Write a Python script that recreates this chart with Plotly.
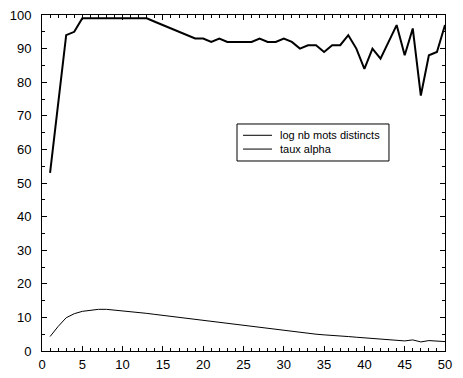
import plotly.graph_objects as go

x_vals = list(range(1, 51))
log_nb_mots = [4.3, 7.3, 9.9, 11.1, 11.8, 12.2, 12.4, 12.4, 12.2, 12.0,
               11.7, 11.4, 11.2, 10.9, 10.6, 10.3, 10.0, 9.7, 9.3, 9.0,
               8.7, 8.4, 8.1, 7.8, 7.5, 7.2, 7.0, 6.7, 6.4, 6.1,
               5.8, 5.6, 5.3, 5.0, 4.8, 4.7, 4.5, 4.3, 4.1, 3.9,
               3.7, 3.5, 3.4, 3.2, 3.0, 3.3, 2.7, 3.1, 3.0, 2.8]
taux_alpha = [53, 73, 94, 95, 99, 99, 99, 99, 99, 99,
              99, 99, 99, 98, 97, 96, 95, 94, 93, 93,
              92, 93, 92, 92, 92, 92, 93, 92, 92, 93,
              92, 90, 91, 91, 89, 91, 91, 94, 90, 84,
              90, 87, 92, 97, 88, 96, 76, 88, 89, 97]
series_names = ["log nb mots distincts", "taux alpha"]

fam = "Liberation Sans, Arial, sans-serif"
font = dict(family=fam, size=13, color="black")

fig = go.Figure()
fig.add_trace(go.Scatter(x=x_vals, y=log_nb_mots, mode="lines",
                         name=series_names[0],
                         line=dict(color="black", width=1)))
fig.add_trace(go.Scatter(x=x_vals, y=taux_alpha, mode="lines",
                         name=series_names[1],
                         line=dict(color="black", width=2)))

axis_common = dict(showline=True, linecolor="black", linewidth=1, mirror="ticks",
                   ticks="inside", ticklen=5, tickcolor="black", showgrid=False,
                   zeroline=False, tickfont=font, automargin=False)
fig.update_xaxes(range=[0, 50], dtick=5, tick0=0, ticklabelstandoff=1,
                 minor=dict(dtick=1, ticks="inside", ticklen=3, tickcolor="black"),
                 **axis_common)
fig.update_yaxes(range=[0, 100], dtick=10, tick0=0, ticklabelstandoff=7,
                 minor=dict(dtick=5, ticks="inside", ticklen=3, tickcolor="black"),
                 **axis_common)

# Legend drawn as a box with sample lines and labels (paper coordinates)
box = dict(x0=0.4839, x1=0.861, y0=0.5655, y1=0.6756)
row_y = [0.642, 0.601]
shapes = [dict(type="rect", xref="paper", yref="paper", line=dict(color="black", width=1),
               fillcolor="white", layer="above", **box)]
annotations = []
for name, yy in zip(series_names, row_y):
    shapes.append(dict(type="line", xref="paper", yref="paper", x0=0.4988, x1=0.5707,
                       y0=yy, y1=yy, line=dict(color="black", width=1), layer="above"))
    annotations.append(dict(text=name, xref="paper", yref="paper", x=0.586, y=yy,
                            xanchor="left", yanchor="middle", showarrow=False,
                            font=dict(family=fam, size=11, color="black")))

fig.update_layout(
    width=463, height=378,
    margin=dict(l=42, r=18, t=15, b=27),
    paper_bgcolor="white", plot_bgcolor="white",
    font=font,
    showlegend=False,
    shapes=shapes,
    annotations=annotations,
)

fig.write_html("out.html")
